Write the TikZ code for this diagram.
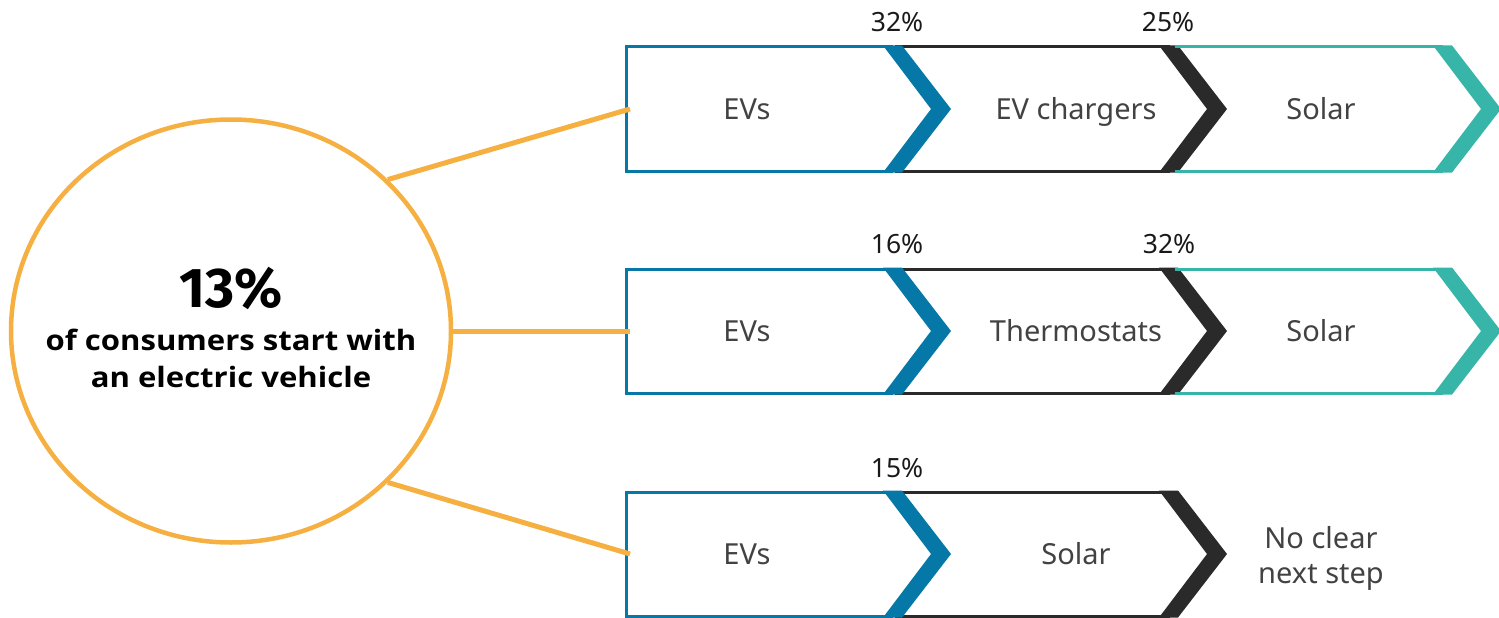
\documentclass[tikz,border=0pt]{standalone}
\usepackage{fontspec}
\setmainfont{Noto Sans}
\newfontfamily\circfont{Open Sans}[FakeStretch=1.11]
\newfontfamily\bigfont{Fira Sans}
\usetikzlibrary{shapes.geometric}
\definecolor{evblue}{HTML}{0678A8}
\definecolor{evdark}{HTML}{2A2A2A}
\definecolor{evteal}{HTML}{36B5A8}
\definecolor{evorange}{HTML}{F5B041}
\definecolor{evtext}{HTML}{424242}
\tikzset{
  edgeline/.style={line width=3pt},
  link/.style={evorange, line width=5pt},
  lbl/.style={anchor=base, inner sep=0pt, text=evtext, font=\fontsize{29}{35}\selectfont},
  pct/.style={anchor=base, inner sep=0pt, text=black!90, font=\fontsize{26.5}{30}\selectfont},
  bold/.style={anchor=base, inner sep=0pt, text=black, font=\circfont\bfseries\fontsize{#1}{#1}\selectfont},
  bigbold/.style={anchor=base, inner sep=0pt, text=black, font=\bigfont\bfseries\fontsize{#1}{#1}\selectfont},
}
\newcommand\evband[4]{% color, xb, mid, dummy
  \fill[#1] (#2,#3-63.5) -- (#2+19,#3-63.5) -- (#2+68,#3) -- (#2+19,#3+63.5) -- (#2,#3+63.5) -- (#2+48,#3) -- cycle;}
\begin{document}
\begin{tikzpicture}[x=1pt,y=-1pt]
\useasboundingbox (0,0) rectangle (1499,618);
% circle
\node[ellipse, draw=evorange, line width=4.5pt, minimum width=440pt, minimum height=423pt, inner sep=0pt] (c) at (231,331) {};
\node[bigbold=56] (big) at (231,307) {13\%};
\node[bold=28] (t1) at (231,350) {of consumers start with};
\node[bold=28] (t2) at (231,387) {an electric vehicle};
% rows
\foreach \m in {109,331,554}{
  \draw[evdark, edgeline] (895,\m-62) -- (1170,\m-62) (895,\m+62) -- (1170,\m+62);
  \draw[evblue, edgeline] (893,\m-62) -- (626.5,\m-62) -- (626.5,\m+62) -- (893,\m+62);
  \evband{evblue}{883}{\m}{}
  \evband{evdark}{1159}{\m}{}
}
\foreach \m in {109,331}{
  \draw[evteal, edgeline] (1175,\m-62) -- (1443,\m-62) (1175,\m+62) -- (1443,\m+62);
  \evband{evteal}{1433}{\m}{}
}
\coordinate (w1) at (630,109);
\coordinate (w2) at (630,331);
\coordinate (w3) at (630,554);
% labels row 1
\node[lbl] (a1) at (747,119.5) {EVs};
\node[lbl] (a2) at (1076,119.5) {EV chargers};
\node[lbl] (a3) at (1321,119.5) {Solar};
\node[pct] (p11) at (897,32) {32\%};
\node[pct] (p12) at (1168,32) {25\%};
% row 2
\node[lbl] (b1) at (747,341.5) {EVs};
\node[lbl] (b2) at (1076,341.5) {Thermostats};
\node[lbl] (b3) at (1321,341.5) {Solar};
\node[pct] (p21) at (897,253) {16\%};
\node[pct] (p22) at (1169,253) {32\%};
% row 3
\node[lbl] (d1) at (747,564.5) {EVs};
\node[lbl] (d2) at (1076,564.5) {Solar};
\node[lbl] (d3) at (1321,548) {No clear};
\node[lbl] (d4) at (1321,583) {next step};
\node[pct] (p31) at (897,477) {15\%};
% connectors
\draw[link] (c.44) -- (w1);
\draw[link] (c.east) -- (w2);
\draw[link] (c.-44) -- (w3);
\end{tikzpicture}
\end{document}
